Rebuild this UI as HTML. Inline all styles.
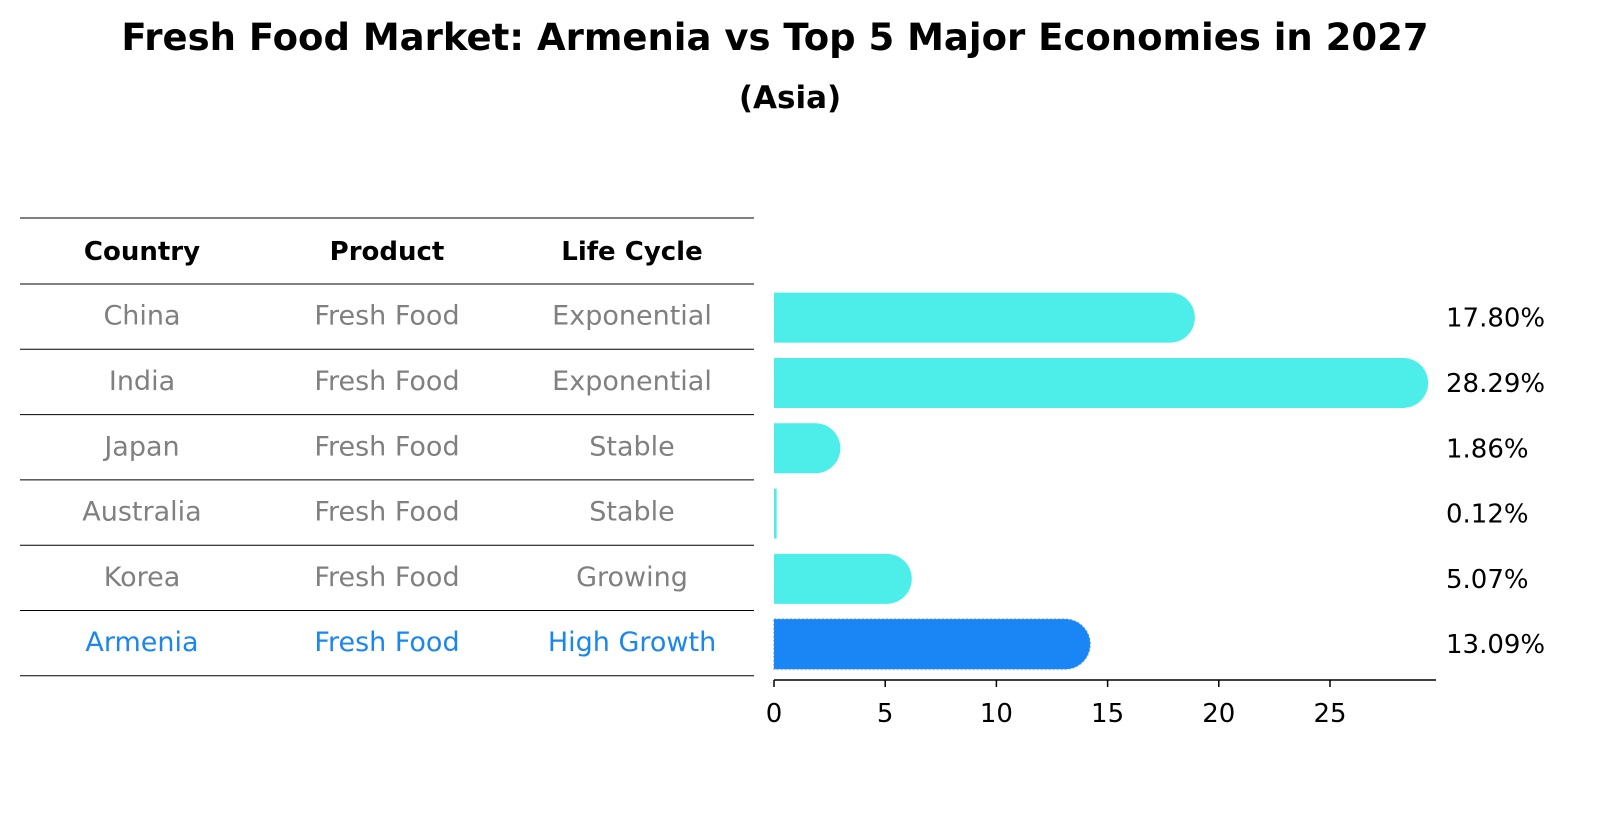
<!DOCTYPE html>
<html><head><meta charset="utf-8"><style>
body{margin:0;background:#fff;}
svg text{font-family:"DejaVu Sans","Liberation Sans",sans-serif;}
</style></head><body>
<svg width="1604" height="823" viewBox="0 0 1604 823" xmlns="http://www.w3.org/2000/svg">
<text x="775" y="50" text-anchor="middle" font-size="37" font-weight="bold">Fresh Food Market: Armenia vs Top 5 Major Economies in 2027</text>
<text x="790" y="108" text-anchor="middle" font-size="31" font-weight="bold">(Asia)</text>
<g id="table"></g>
<g id="bars"></g>
</svg>
<script>
const countries=["China","India","Japan","Australia","Korea","Armenia"];
const products=["Fresh Food","Fresh Food","Fresh Food","Fresh Food","Fresh Food","Fresh Food"];
const lifeCycles=["Exponential","Exponential","Stable","Stable","Growing","High Growth"];
const values=[17.80,28.29,1.86,0.12,5.07,13.09];
const valueLabels=["17.80%","28.29%","1.86%","0.12%","5.07%","13.09%"];
const xTicks=[0,5,10,15,20,25];

const NS="http://www.w3.org/2000/svg";
function mk(tag,attrs,parent){const e=document.createElementNS(NS,tag);for(const k in attrs)e.setAttribute(k,attrs[k]);parent.appendChild(e);return e;}
const tbl=document.getElementById('table');
const bars=document.getElementById('bars');
const x0=774,pxPer=22.24;
const xs=v=>x0+v*pxPer;
const rowTop=218,hdrH=66,rowH=65.3;
const rowCenter=i=>rowTop+hdrH+rowH*i+rowH/2;
const colX=[142,387,632];
for(let i=0;i<=countries.length+1;i++){
  const y=i===0?rowTop:rowTop+hdrH+rowH*(i-1);
  const l=mk('line',{x1:20,x2:754,y1:y,y2:y,stroke:'#000','stroke-width':1},tbl);
  
  
}
["Country","Product","Life Cycle"].forEach((h,j)=>{
  const t=mk('text',{x:colX[j],y:rowTop+hdrH/2+9,'text-anchor':'middle','font-size':26,'font-weight':'bold'},tbl);
  t.textContent=h;
  
  
});
countries.forEach((c,i)=>{
  const col=c==="Armenia"?"#1a86f0":"#808080";
  [c,products[i],lifeCycles[i]].forEach((s,j)=>{
    const t=mk('text',{x:colX[j],y:rowCenter(i)+8,'text-anchor':'middle','font-size':27,fill:col},tbl);
    t.textContent=s;
    
    
  });
});
const bh=50,r=25;
values.forEach((v,i)=>{
  const cy=rowCenter(i)+1;
  const fill=countries[i]==="Armenia"?"#1a86f5":"#4deee9";
  const xe=xs(v);
  let d;
  if(v<1.5){d=`M${x0},${cy-bh/2}H${xe}V${cy+bh/2}H${x0}Z`;}
  else d=`M${x0},${cy-bh/2}H${xe}A${r},${r} 0 0 1 ${xe},${cy+bh/2}H${x0}Z`;
  const p=mk('path',{d:d,fill:fill},bars);
  if(countries[i]==="Armenia"){p.setAttribute('stroke','#3a8ee0');p.setAttribute('stroke-dasharray','2,2');}
  
  
  const t=mk('text',{x:1446,y:cy+9,'font-size':26},bars);
  t.textContent=valueLabels[i];
  
  
});
const ax=mk('line',{x1:x0,x2:1436,y1:680,y2:680,stroke:'#000','stroke-width':1.5},bars);


xTicks.forEach(v=>{
  const l=mk('line',{x1:xs(v),x2:xs(v),y1:680,y2:687,stroke:'#000','stroke-width':1.5},bars);
  
  
  const t=mk('text',{x:xs(v),y:722,'text-anchor':'middle','font-size':26},bars);
  t.textContent=v;
  
  
});
</script>
</body></html>
